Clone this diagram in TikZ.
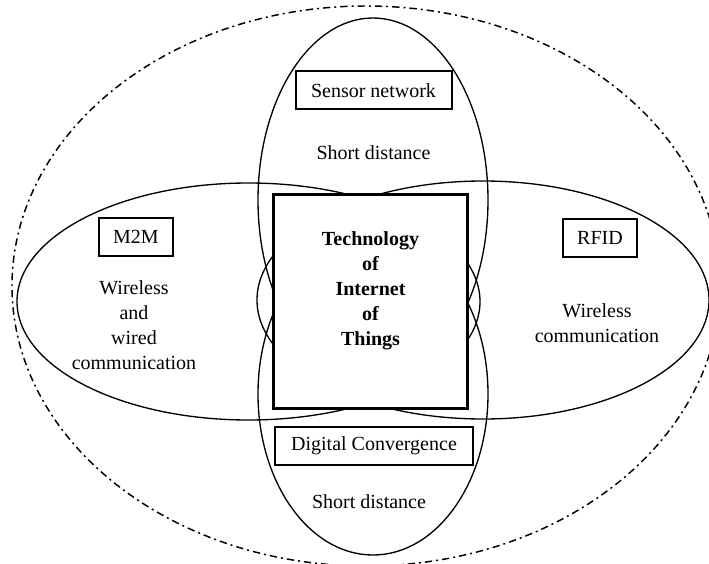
\documentclass[tikz,border=0pt]{standalone}
\usepackage{fontspec}
\setmainfont{Liberation Serif}
\usepackage{tikz}
\usetikzlibrary{positioning}

\begin{document}
\begin{tikzpicture}[x=0.75pt, y=-0.75pt, font=\fontsize{15}{18.75}\selectfont,
	ring/.style = {draw, line width=1pt},
	tag/.style = {draw, fill=white, line width=1.5pt, minimum height=28.5pt, inner sep=0pt},
	txt/.style = {align=center, inner sep=0pt}]
	\useasboundingbox (0,0) rectangle (709,563);
	\draw[line width=1.1pt, dash pattern=on 5.5pt off 3pt on 1.5pt off 3pt] (366,286) ellipse [x radius=354, y radius=280];
	\draw[ring] (373,200) ellipse [x radius=115, y radius=182];
	\draw[ring] (373,394) ellipse [x radius=115, y radius=161];
	\draw[ring] (248.5,301.5) ellipse [x radius=231.5, y radius=118.5];
	\draw[ring] (483,300) ellipse [x radius=226, y radius=119];
	\node[draw, fill=white, line width=2.2pt, minimum width=146pt, minimum height=160pt] (core) at (370.5,301.5) {};
	\node[txt, font=\fontsize{15}{18.75}\selectfont\bfseries] [above of=core, node distance=8.25pt] (iot) {Technology\\of\\Internet\\of\\Things};
	\node[tag, minimum width=117pt] (sensor) at (373.5,90.5) {Sensor network};
	\node[txt] [below of=sensor, node distance=46.9pt] (short1) {Short distance};
	\node[tag, minimum width=56pt] (m2m) at (136,237) {M2M};
	\node[txt] [below of=m2m, node distance=66.4pt, xshift=-1.5pt] (wired) {Wireless\\and\\wired\\communication};
	\node[tag, minimum width=56pt] (rfid) at (600,238) {RFID};
	\node[txt] [below of=rfid, node distance=64.1pt, xshift=-2.25pt] (wireless) {Wireless\\communication};
	\node[tag, minimum width=149pt] (digital) at (374,445.5) {Digital Convergence};
	\node[txt] [below of=digital, node distance=42.4pt, xshift=-3.75pt] (short2) {Short distance};
\end{tikzpicture}
\end{document}
